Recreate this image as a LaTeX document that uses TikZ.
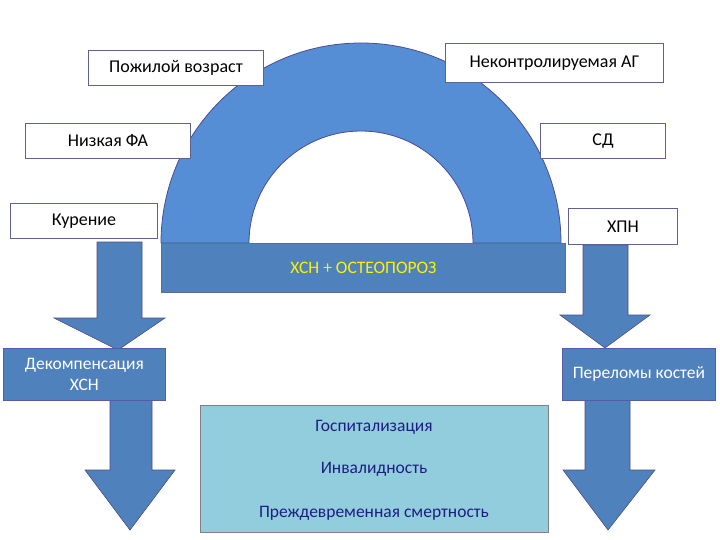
\documentclass[tikz,border=0pt]{standalone}
\usepackage{fontspec}
\setmainfont{Carlito}
\begin{document}
\begin{tikzpicture}[x=1pt,y=-1pt,
 wb/.style={draw=black!20!blue!25!gray,line width=1pt,fill=white,inner sep=0pt},
 bb/.style={draw=blue!30!gray,line width=0.8pt,fill=arr,inner sep=0pt,text=white,font=\fontsize{17.5}{21}\selectfont},
 arrs/.style={fill=arr,draw=blue!30!black!70,line width=0.6pt},
 txt/.style={font=\fontsize{18}{21}\selectfont}]
\definecolor{arch}{RGB}{85,142,213}
\definecolor{arr}{RGB}{79,129,189}
\definecolor{cbox}{RGB}{146,205,222}
\definecolor{dtext}{RGB}{30,30,130}
\useasboundingbox (0,0) rectangle (720,540);
% arch
\draw[fill=arch,draw=blue!40!black!70,line width=0.8pt] (161,243) arc[start angle=180,end angle=360,radius=200] -- (473,243) arc[start angle=0,end angle=-180,radius=112] -- cycle;
\node[fill=arr,draw=blue!40!black!60,line width=0.8pt,minimum width=404,minimum height=49,anchor=north west,text=yellow,font=\fontsize{17.5}{21}\selectfont] (main) at (161,243) {ХСН + ОСТЕОПОРОЗ};
% arrows
\draw[arrs] (97,242) -- (142,242) -- (142,318) -- (165,318) -- (118,350) -- (54,318) -- (97,318) -- cycle;
\draw[arrs] (583,245) -- (628,245) -- (628,315) -- (650,315) -- (605,348) -- (560,315) -- (583,315) -- cycle;
\draw[arrs] (110,400) -- (152,400) -- (152,470) -- (175,470) -- (130,530) -- (85,470) -- (110,470) -- cycle;
\draw[arrs] (585,400) -- (630,400) -- (630,470) -- (655,470) -- (608,530) -- (563,470) -- (585,470) -- cycle;
% white boxes
\node[wb,minimum width=175,minimum height=35,anchor=north west,txt] (a) at (88,50) {Пожилой возраст};
\node[wb,minimum width=218,minimum height=39,anchor=north west,txt] (b) at (445,43) {Неконтролируемая АГ};
\node[wb,minimum width=165,minimum height=35,anchor=north west,txt] (c) at (25,123) {Низкая ФА};
\node[wb,minimum width=125,minimum height=35,anchor=north west,txt] (d) at (540,123) {СД};
\node[wb,minimum width=147,minimum height=35,anchor=north west,txt] (e) at (10,203) {Курение};
\node[wb,minimum width=109,minimum height=36,anchor=north west,txt] (f) at (568,208) {ХПН};
% blue boxes
\node[bb,minimum width=162,minimum height=52,anchor=north west,align=center] (g) at (3,348) {Декомпенсация\\ХСН};
\node[bb,minimum width=153,minimum height=52,anchor=north west] (h) at (562,348) {Переломы костей};
% center box
\draw[fill=cbox,draw=gray,line width=0.8pt] (200,405) rectangle (548,532);
\node[text=dtext,font=\fontsize{17.5}{21}\selectfont] (i1) at (374,427) {Госпитализация};
\node[text=dtext,font=\fontsize{17.5}{21}\selectfont] (i2) at (374,469) {Инвалидность};
\node[text=dtext,font=\fontsize{17.5}{21}\selectfont] (i3) at (374,513) {Преждевременная смертность};
\end{tikzpicture}
\end{document}
